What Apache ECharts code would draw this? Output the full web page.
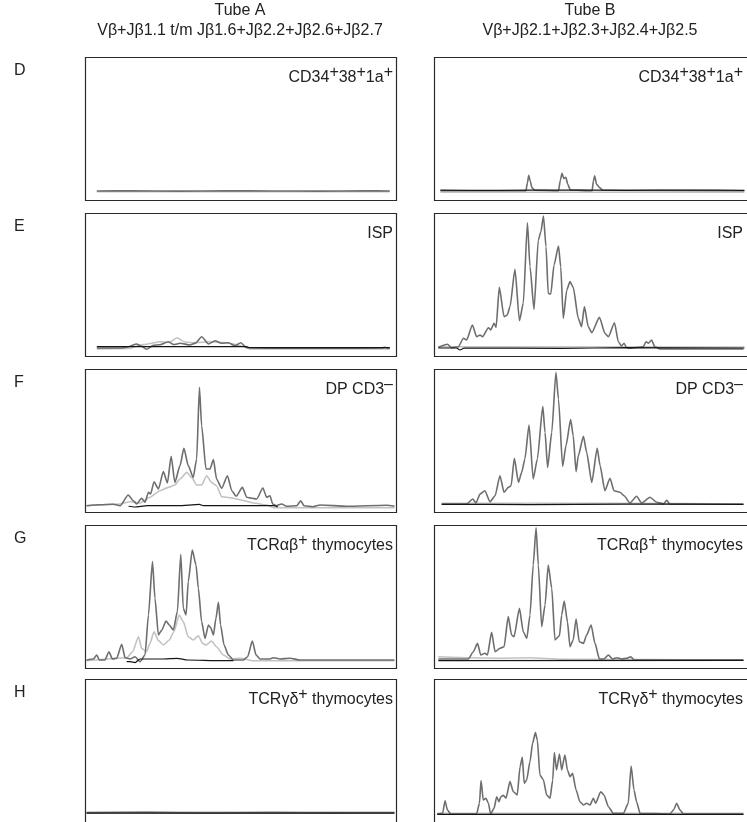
<!DOCTYPE html>
<html>
<head>
<meta charset="utf-8">
<script type="text/javascript" src="https://fastly.jsdelivr.net/npm/echarts@6.0.0/dist/echarts.min.js"></script>
</head>
<body style="margin: 0">
<div id="container" style="width: 747px; height: 822px"></div>
<script type="text/javascript">
    // x = relative fragment length (0-100), y = relative signal (0-100)
    // tube A, row D
    var aD_dark = [[3.8,6.3],[15,6.4],[30,6.2],[45,6.4],[60,6.3],[75,6.2],[90,6.4],[98,6.3]];
    var aD_light = [[3.8,5.8],[98,5.8]];
    var aD_black = [];
    // tube B, row D
    var bD_dark = [[2,6.5],[28.7,6.5],[29.2,12],[29.6,17.2],[30.1,13],[30.6,8.5],[31.5,6.8],[38.9,6.5],[39.5,14],[40,18.6],[40.6,15],[41.2,15.9],[41.8,11],[42.6,7],[49.4,6.5],[49.8,13],[50.2,17],[50.8,11],[51.8,8.5],[52.8,6.8],[97,6.5]];
    var bD_light = [[2,5.4],[97,5.4]];
    var bD_black = [[2,6.9],[20,6.7],[40,7],[60,6.8],[80,6.9],[97,6.8]];
    // tube A, row E
    var aE_dark = [[3.8,5.6],[12,5.6],[14,6.5],[16.6,8.4],[18,7],[19.8,4.7],[22,7.5],[24.1,7.9],[26.8,10],[28.5,8],[30.6,8.9],[33.8,7.7],[35.5,9],[37.5,13.5],[39.7,8.4],[41.8,10.7],[43.9,8.9],[46.1,9.3],[48.2,7.2],[50.1,9.3],[52,5.8],[60,5.5],[80,5.4],[95.5,5.6],[96.5,6.1],[97.3,5.4],[98,5.6]];
    var aE_light = [[3.8,5],[14,5.2],[17.5,7.5],[20.2,8.4],[24.1,10],[27,9.5],[29.6,12.8],[31.8,10],[34.5,9.3],[37,9.5],[40.5,10],[43,9.5],[45.6,9.3],[48,8.2],[50.5,6.8],[53,4.9],[98,4.9]];
    var aE_black = [[3.8,6.5],[52,6.5],[53,5.8],[98,5.8]];
    // tube B, row E
    var bE_dark = [[1.35,6.1],[4.2,8.2],[5.5,5.8],[7.6,6.5],[9.2,12.4],[10.2,11.2],[12,21.7],[13.3,13.5],[14.4,14.7],[15.2,13.5],[17,19.8],[17.7,18.2],[18.75,22.8],[19.4,20],[20.4,48],[21.9,27.5],[22.9,28.7],[23.75,34.5],[25.3,60.6],[26.7,24.7],[27.9,36.8],[29.2,93.2],[30,62.5],[31.25,32.6],[32.6,81.1],[33.4,86.9],[34.2,97.9],[35,76.5],[35.7,43.8],[36.5,43.4],[37.5,63.6],[38.9,76.9],[39.6,62.5],[40.4,26.3],[41.5,46.2],[42.5,52],[43.5,48],[45.1,26.3],[46.1,20.5],[47,34.5],[48.2,20.5],[49.3,16.3],[51.7,27],[53.4,15.9],[54.5,13.5],[56.4,23.3],[57.6,10],[58.6,7],[59.4,8.9],[60.2,5.8],[61.25,5.4],[65.4,6.5],[66.25,10],[67,8.9],[68,11.2],[69,6.5],[70.6,4.9],[96.7,4.9]];
    var bE_light = [[1.35,6.5],[97,6.3]];
    var bE_black = [[1.35,5.6],[7,5.6],[8.1,4.2],[9.5,5.6],[40,5.4],[60,5.8],[97,5.6]];
    // tube A, row F
    var aF_dark = [[0.5,4.4],[4.8,5.1],[9.1,5.4],[11.3,4.4],[13.9,11.9],[15.55,7.9],[16.6,5.6],[18.2,9.6],[19.3,6.8],[20.4,13.8],[21.1,12.6],[22.2,21.2],[23.6,16.1],[25.2,28.2],[26.5,20.3],[27.7,38.9],[28.9,20.7],[30.55,32.4],[31.8,44.5],[33.2,32.4],[34.8,24.2],[35.9,37.1],[36.8,87.2],[37.5,60.4],[38.9,30.1],[40.2,30.1],[41.3,36.6],[42.3,23.1],[43.95,16.6],[45.8,25.4],[47.2,14.9],[48.6,11],[50.6,17.2],[52,10.3],[53.6,9.6],[55.2,9.1],[57.2,16.8],[58.4,10.3],[59.5,11.4],[60.35,5.6],[61.6,4.4],[63.2,5.6],[64.85,4],[68.1,4.4],[69.35,7.9],[70.4,4.4],[73.4,3.7],[75.6,4.9],[84.1,4],[97,4.7],[99.5,4]];
    var aF_light = [[0.5,4.4],[11.3,5.6],[14.5,7.2],[17.7,6.3],[20.9,10.3],[24.1,14.9],[26.8,17.2],[28.9,18.9],[30.55,23.1],[32.7,27.7],[34.3,24.2],[35.9,18.9],[37.5,18.9],[39.1,25.4],[40.7,20.7],[42.3,18.4],[43.95,10.7],[45.6,10.3],[47.7,9.6],[49.8,8.6],[54.1,6.3],[58.4,4.9],[60.6,3],[99.5,3]];
    var aF_black = [[14,4],[16,3.5],[20,4.4],[30,4.4],[36.8,5.3],[38,4.4],[50,4.4],[60.6,4.4],[62,3.7]];
    // tube B, row F
    var bF_dark = [[2.4,5.6],[10.2,5.6],[12.1,9.1],[13.1,6.3],[14.4,12.6],[15.9,14.9],[17.5,7.2],[19.1,11.4],[20.6,25.4],[21.9,13.8],[23.2,17.2],[24.1,18.4],[25.1,37.5],[26.4,20.7],[27.4,27.7],[28.4,37.1],[29.7,60.8],[31,23.1],[32.3,37.1],[34,73.9],[34.7,55.7],[35.5,31.2],[36.8,55.7],[38.1,97.7],[38.9,79],[40.2,31.9],[41.25,46.4],[42.7,64.6],[43.5,53.4],[44.4,28.2],[45.1,39.4],[46.7,52.9],[47.7,41.7],[49.3,20.7],[51,44.5],[51.9,32.4],[53.4,14.9],[55,23.5],[56.25,14.9],[58.1,13.8],[59.4,11.4],[61.25,6.3],[63.3,11],[64.9,6.3],[67.5,10.3],[69.6,6.8],[71.7,5.6],[72.7,8.2],[73.75,5.4],[96.7,5.4]];
    var bF_light = [[2.4,6],[60,6],[96.7,5.6]];
    var bF_black = [[2.4,5.4],[30,5.2],[60,5.5],[96.7,5.4]];
    // tube A, row G
    var aG_dark = [[0.5,5.6],[2.7,6.3],[3.8,9.1],[4.6,5.6],[6.4,5.6],[7.7,11.4],[8.8,6.3],[10.2,6.8],[11.8,16.6],[12.9,7.2],[14.5,6.3],[16.1,7.9],[17.7,4.4],[19.3,9.1],[20.4,37.1],[21.7,74.4],[22.5,48.7],[23.6,23.1],[24.7,26.6],[26.05,32.9],[27.1,30.1],[28.4,26.6],[29.7,39.4],[30.8,79.5],[31.6,41.7],[32.5,37.1],[33.2,60.4],[34.5,82.5],[35.7,72],[36.45,55.7],[37.5,32.4],[38.6,20.7],[39.7,30.1],[40.4,28.2],[41.3,23.1],[42.1,34.7],[42.9,45.9],[43.6,30.1],[44.7,16.1],[46.1,9.1],[47.7,5.6],[50.9,5.6],[52.3,7.9],[53.8,18.9],[55,9.1],[56.3,6.3],[59.5,6.3],[60.6,7.2],[62.7,6.3],[65.9,6.8],[69.1,5.6],[99.5,5.6]];
    var aG_light = [[0.5,5.1],[13.4,7.2],[15.3,11.4],[17.2,21.9],[18.2,13.8],[19.8,11.4],[20.9,17.2],[22.2,25.4],[23.6,19.2],[25.2,16.1],[27.1,19.6],[28.6,25.4],[30.3,37.1],[31.6,32.4],[33.2,21.9],[34.8,19.6],[36.45,22.6],[37.8,17.2],[38.9,16.1],[40.7,18.9],[42.3,14.9],[44.5,9.1],[46.6,6.3],[49.9,6.8],[54.1,5.1],[99.5,5.1]];
    var aG_black = [[13.4,4.4],[14.5,4.4],[16.1,3.8],[17.7,6.3],[25,6.3],[29.6,6.8],[33,5.6],[43.6,5.1],[47.7,5.1]];
    // tube B, row G
    var bG_dark = [[1.35,6.3],[10.7,6.3],[12.3,11.4],[13.6,17.2],[14.6,9.1],[15.9,10.3],[16.7,9.1],[18,24.9],[19.1,11.4],[20.6,13.8],[21.9,14.9],[23.2,35.9],[24.25,23.1],[25,21.9],[26.7,41.7],[27.9,25.4],[29,20.7],[30,37.1],[31,72],[31.9,98.1],[32.6,72],[33.65,28.9],[34.7,44],[35.7,72],[36.8,55.7],[37.8,19.6],[39.2,22.6],[39.9,37.1],[40.7,46.9],[41.7,32.4],[42.5,14.9],[43.5,19.6],[44.4,34.3],[45.4,18.4],[46.7,17.2],[47.7,23.1],[49.1,30.1],[50.3,17.2],[51.7,6.3],[53.1,6.3],[54.5,9.1],[55.8,6.3],[57.1,7.2],[58.65,6.3],[60.2,6.8],[61.5,7.9],[62.5,5.6],[96.7,5.6]];
    var bG_light = [[1.35,7.9],[12,7.2],[20,6.8],[30,7.2],[40,6.1],[96.7,5.4]];
    var bG_black = [[1.35,5.1],[96.7,5.4]];
    // tube A, row H
    var aH_dark = [[0.5,6.5],[20,6.7],[40,6.3],[60,6.6],[80,6.4],[99.5,6.5]];
    var aH_light = [[0.5,6.9],[99.5,6.9]];
    var aH_black = [[0.5,6.2],[99.5,6.2]];
    // tube B, row H
    var bH_dark = [[1,5.6],[2.7,6.1],[3.45,14.9],[4.2,8.4],[5.2,5.6],[13.3,5.6],[14.2,13.1],[14.7,28.9],[15.4,15.4],[16.25,16.6],[17,13.1],[17.7,5.6],[18.75,9.6],[19.6,17.7],[20.3,14.2],[20.9,17.7],[21.7,18.6],[22.5,16.6],[23.75,28.2],[24.8,21.2],[26,18.9],[26.9,38.7],[27.6,45.2],[28.2,27],[28.95,29.4],[30,42.2],[30.8,55],[31.7,62.5],[32.3,57.3],[33.1,32.9],[34.2,29.4],[35.2,18.9],[36.25,16.6],[37.1,29.4],[37.6,48.5],[38.3,36.4],[39.2,47.6],[39.9,36.4],[40.9,46.9],[41.7,36.4],[42.5,31.7],[43.3,34],[44.4,22.4],[45.6,14.2],[46.7,11.9],[47.7,13.1],[48.75,11.9],[49.8,16.6],[50.5,13.1],[52.1,21.2],[53.1,18.9],[54.5,10.7],[56,6.1],[59.2,6.1],[60.7,13.1],[61.6,39.2],[62.5,22.4],[63.3,14.2],[64.4,6.1],[73.75,5.6],[75,8.9],[75.8,13.1],[76.9,8.4],[77.9,5.6],[96.7,5.6]];
    var bH_light = [[1,6.1],[96.7,6.1]];
    var bH_black = [[1,5.4],[96.7,5.4]];

    var rowLetters = ['D', 'E', 'F', 'G', 'H'];
    var rowLabels = ['CD34{s|+}38{s|+}1a{s|+}', 'ISP', 'DP CD3{s|\u2013}', 'TCR\u03b1\u03b2{s|+} thymocytes', 'TCR\u03b3\u03b4{s|+} thymocytes'];
    var tubeTitles = ['Tube A\nV\u03b2+J\u03b21.1 t/m J\u03b21.6+J\u03b22.2+J\u03b22.6+J\u03b22.7', 'Tube B\nV\u03b2+J\u03b22.1+J\u03b22.3+J\u03b22.4+J\u03b22.5'];
    var traces = [
        [[aD_dark, aD_light, aD_black], [bD_dark, bD_light, bD_black]],
        [[aE_dark, aE_light, aE_black], [bE_dark, bE_light, bE_black]],
        [[aF_dark, aF_light, aF_black], [bF_dark, bF_light, bF_black]],
        [[aG_dark, aG_light, aG_black], [bG_dark, bG_light, bG_black]],
        [[aH_dark, aH_light, aH_black], [bH_dark, bH_light, bH_black]]
    ];

    var FONT = "'Liberation Sans', Arial, sans-serif";
    var rowTop = [57, 213, 369, 525, 679];
    var colLeft = [85, 434];
    var colWidth = [311, 320];
    var frameWidth = [311, 340];   // tube B frames run off the right edge
    var colTextRight = [393, 743];
    var colCenter = [240, 590];
    var PH = 143;

    var grids = [], xAxes = [], yAxes = [], series = [], titles = [], frames = [];
    var styles = [
        {color: '#6e6e6e', width: 1.6, z: 3},
        {color: '#c2c2c2', width: 1.6, z: 2},
        {color: '#151515', width: 1.2, z: 4}
    ];
    var order = [1, 0, 2];

    for (var r = 0; r < 5; r++) {
        titles.push({
            text: rowLetters[r], left: 9, top: rowTop[r] + 1,
            textStyle: {fontFamily: FONT, fontSize: 16, fontWeight: 'normal', color: '#222'}
        });
        for (var c = 0; c < 2; c++) {
            var gi = grids.length;
            grids.push({
                left: colLeft[c], top: rowTop[r], width: colWidth[c], height: PH,
                outerBoundsMode: 'none', show: false
            });
            frames.push({
                type: 'rect', silent: true, z: 10,
                shape: {x: colLeft[c] + 0.5, y: rowTop[r] + 0.5, width: frameWidth[c], height: PH},
                style: {fill: 'none', stroke: '#2a2a2a', lineWidth: 1.2}
            });
            xAxes.push({type: 'value', gridIndex: gi, min: 0, max: 100, show: false});
            yAxes.push({type: 'value', gridIndex: gi, min: 0, max: 100, show: false});
            for (var k = 0; k < 3; k++) {
                var t = order[k];
                var d = traces[r][c][t];
                if (!d.length) continue;
                series.push({
                    type: 'line', xAxisIndex: gi, yAxisIndex: gi, data: d,
                    showSymbol: false, silent: true, z: styles[t].z,
                    smooth: 0.2, smoothMonotone: 'x',
                    lineStyle: {color: styles[t].color, width: styles[t].width}
                });
            }
            titles.push({
                text: rowLabels[r], left: colTextRight[c], top: rowTop[r] + 9, textAlign: 'right',
                padding: 0,
                textStyle: {
                    fontFamily: FONT, fontSize: 16, fontWeight: 'normal', color: '#222', lineHeight: 24,
                    rich: {s: {fontFamily: FONT, fontSize: 16, color: '#222', padding: [0, 0, 10, 0]}}
                }
            });
        }
    }
    for (var c2 = 0; c2 < 2; c2++) {
        titles.push({
            text: tubeTitles[c2], left: colCenter[c2], top: 1, textAlign: 'center', padding: 0,
            textStyle: {fontFamily: FONT, fontSize: 16, fontWeight: 'normal', color: '#222', lineHeight: 20}
        });
    }

    var myChart = echarts.init(document.getElementById('container'), null, {renderer: 'canvas'});
    var option = {
        animation: false,
        backgroundColor: '#fff',
        title: titles,
        grid: grids,
        xAxis: xAxes,
        yAxis: yAxes,
        graphic: frames,
        series: series
    };
    myChart.setOption(option);
</script>
</body>
</html>
